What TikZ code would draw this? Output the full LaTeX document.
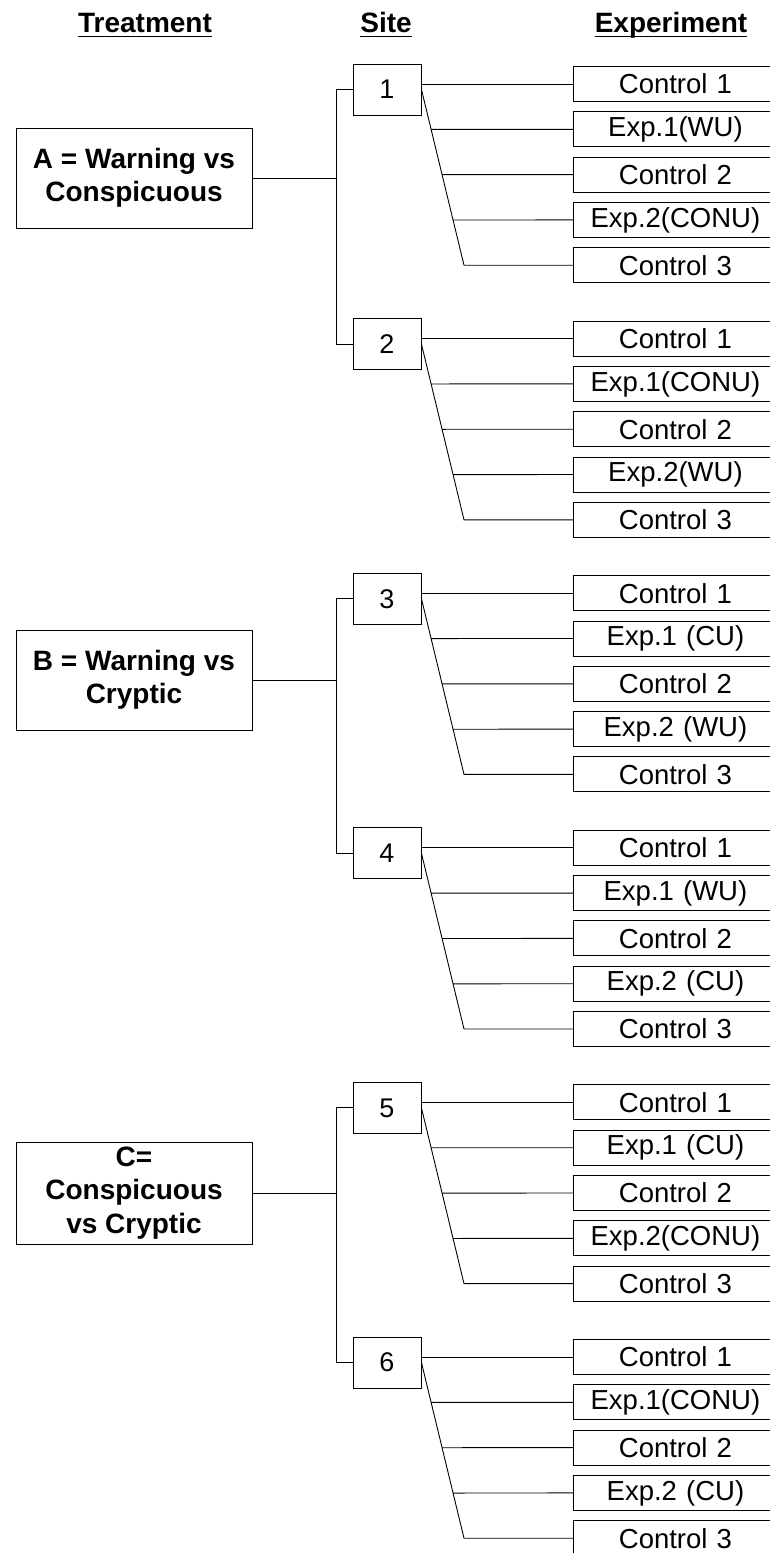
\documentclass[tikz,border=0pt]{standalone}
\usepackage{fontspec}
\setmainfont{Liberation Sans}
\newfontfamily\regf{Liberation Sans}
\usetikzlibrary{calc}
\tikzset{
  lin/.style={line width=0.9pt, black},
  treat/.style={draw, line width=0.9pt, minimum width=236pt, minimum height=100pt, inner sep=0pt,
    align=center, font=\regf\bfseries\fontsize{28}{33.5}\selectfont},
  sitebox/.style={draw, line width=0.9pt, minimum width=68pt, minimum height=51pt, inner sep=0pt,
    font=\regf\fontsize{27}{30}\selectfont},
  expbox/.style={draw, line width=0.9pt, minimum width=204pt, minimum height=35pt, inner sep=0pt,
    anchor=west, text width=196pt, align=center, font=\regf\fontsize{27.5}{30}\selectfont},
  header/.style={inner sep=0pt, anchor=base, font=\regf\bfseries\fontsize{28}{32}\selectfont},
}
\begin{document}
\begin{tikzpicture}[x=1pt, y=-1pt]
\useasboundingbox (0,0) rectangle (770,1553);
\clip (0,0) rectangle (770,1553);
% headers
\node[header] (h1) at (145,32) {Treatment};
\node[header] (h2) at (386,32) {Site};
\node[header] (h3) at (671,32) {Experiment};
\foreach \h in {h1,h2,h3}{
  \draw[line width=1.6pt] ([yshift=-4.5pt]\h.base west) -- ([yshift=-4.5pt]\h.base east);
}
% treatment boxes
\node[treat] (tA) at (134,178) {A = Warning vs\\Conspicuous};
\node[treat] (tB) at (134,680) {B = Warning vs\\Cryptic};
\node[treat, minimum height=102pt] (tC) at (134,1193) {C=\\Conspicuous\\vs Cryptic};
% site groups
\foreach \k/\ea/\eb in {1/{Exp.1(WU)}/{Exp.2(CONU)},
                         2/{Exp.1(CONU)}/{Exp.2(WU)},
                         3/{Exp.1 (CU)}/{Exp.2 (WU)},
                         4/{Exp.1 (WU)}/{Exp.2 (CU)},
                         5/{Exp.1 (CU)}/{Exp.2(CONU)},
                         6/{Exp.1(CONU)}/{Exp.2 (CU)}}{
  \pgfmathsetmacro\yo{84+254.6*(\k-1)}
  \node[sitebox] (s\k) at (387,\yo+5.5) {\k};
  \node[expbox] (e\k a) at (573,\yo) {Control 1};
  \node[expbox] (e\k b) at (573,\yo+45.3) {\ea};
  \node[expbox] (e\k c) at (573,\yo+90.6) {Control 2};
  \node[expbox] (e\k d) at (573,\yo+135.9) {\eb};
  \node[expbox] (e\k e) at (573,\yo+181.2) {Control 3};
  \coordinate (d\k) at (464,\yo+181.2);
  \draw[lin] (s\k.east |- e\k a.west) -- (e\k a.west);
  \draw[lin] (s\k.east) -- (d\k) -- (e\k e.west);
  \draw[lin] ($(s\k.east)!0.2268!(d\k)$) -- (e\k b.west);
  \draw[lin] ($(s\k.east)!0.4849!(d\k)$) -- (e\k c.west);
  \draw[lin] ($(s\k.east)!0.7430!(d\k)$) -- (e\k d.west);
}
% brackets
\coordinate (bA) at (336,178);
\coordinate (bB) at (336,680);
\coordinate (bC) at (336,1193);
\draw[lin] (tA.east) -- (bA);
\draw[lin] (tB.east) -- (bB);
\draw[lin] (tC.east) -- (bC);
\draw[lin] (s1.west) -- (s1.west -| bA) -- (s2.west -| bA) -- (s2.west);
\draw[lin] (s3.west) -- (s3.west -| bB) -- (s4.west -| bB) -- (s4.west);
\draw[lin] (s5.west) -- (s5.west -| bC) -- (s6.west -| bC) -- (s6.west);
\end{tikzpicture}
\end{document}
